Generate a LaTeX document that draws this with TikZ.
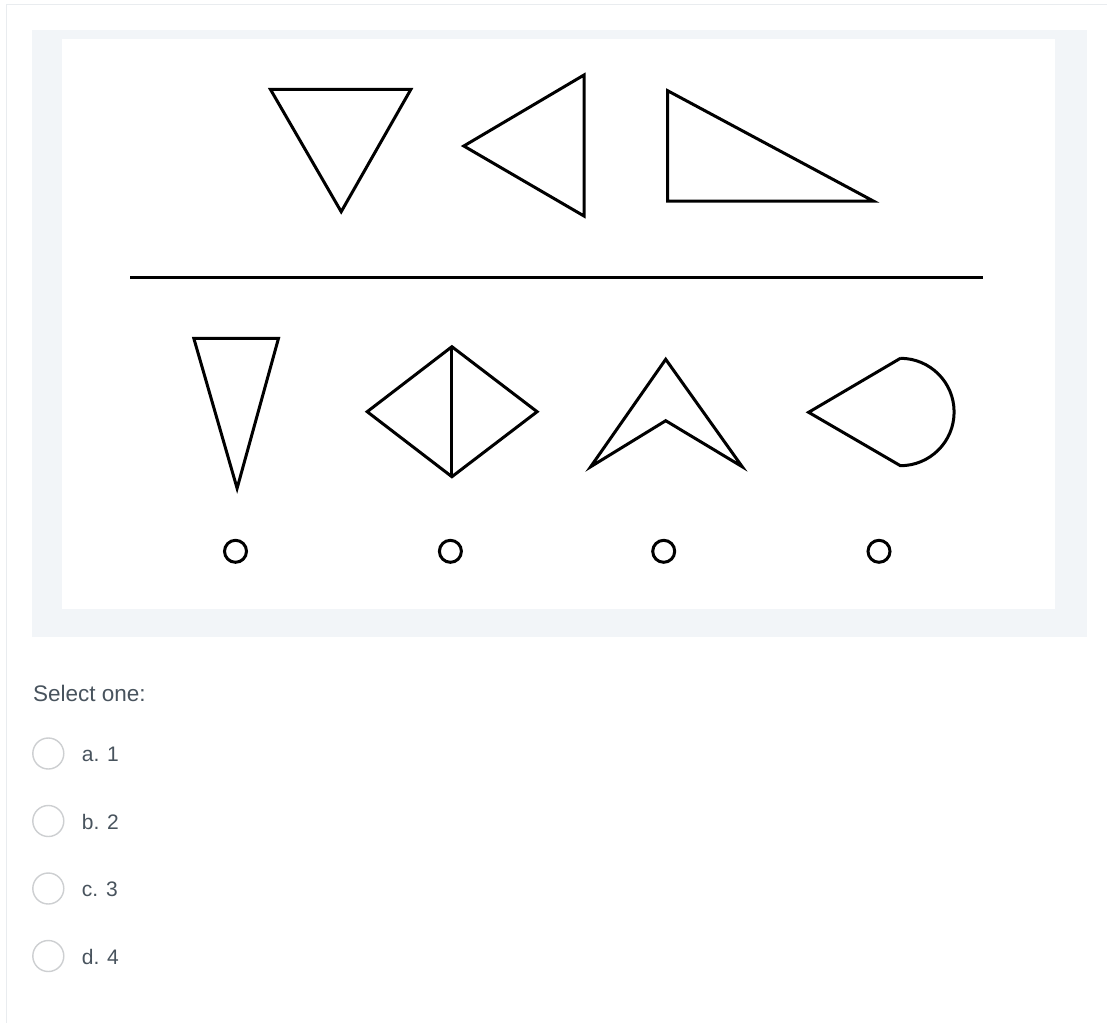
\documentclass[tikz,border=0pt]{standalone}
\usepackage{fontspec}
\setmainfont{Liberation Sans}
\usepackage{xcolor}
\usepackage{tikz}
\usetikzlibrary{positioning}
\definecolor{PanelGray}{HTML}{F2F5F8}
\definecolor{CardLine}{HTML}{E9ECEF}
\definecolor{RadioGray}{HTML}{CDCFD1}
\definecolor{TextSlate}{HTML}{48535D}

\begin{document}
\begin{tikzpicture}[x=1pt, y=-1pt,
  figline/.style={draw=black, line width=3pt, line join=miter},
  dot/.style={draw=black, line width=3pt},
  radio/.style={circle, draw=RadioGray, line width=1.4pt, fill=white,
    minimum size=31pt, inner sep=0pt},
  prompt/.style={anchor=base west, inner sep=0pt, text=TextSlate,
    font=\fontsize{22.5}{27}\selectfont},
  choice/.style={anchor=base west, inner sep=0pt, text=TextSlate,
    font=\fontsize{21}{25}\selectfont}
]
\useasboundingbox (0,0) rectangle (1107,1023);
\fill[white] (0,0) rectangle (1107,1023);
\draw[CardLine, line width=1.5pt] (6.5,1023) |- (1107,4.5);

% picture frame
\fill[PanelGray] (32,30) rectangle (1087,637);
\fill[white] (62,39) rectangle (1055,609);

% upper row
\draw[figline] (270.4,89.3) -- (410.9,89.3) -- (341.2,211.7) -- cycle;
\draw[figline] (584.0,75) -- (463.8,146) -- (584.0,216) -- cycle;
\draw[figline] (667.6,90.7) -- (667.6,201) -- (873.3,201) -- cycle;

% divider
\draw[black, line width=3pt] (130,277.7) -- (983.3,277.7);

% lower row
\draw[figline] (193.8,338.3) -- (278.5,338.3) -- (237.1,488.3) -- cycle;
\draw[figline] (451.9,346.7) -- (537.1,411.7) -- (451.9,476.7)
  -- (367.2,411.7) -- cycle;
\draw[figline] (451.9,346.7) -- (451.9,476.7);
\draw[figline] (665.7,359.3) -- (742.2,466.7) -- (665.7,420.7)
  -- (590.7,466.7) -- cycle;
\draw[figline] (900.4,358.3) -- (808.6,412.3) -- (900.4,465.7)
  arc[start angle=-90, end angle=90, radius=53.7pt];

% answer marks
\foreach \cx in {235.5, 450.4, 663.7, 879}
  \draw[dot] (\cx,551.3) circle[radius=11pt];

% question
\node[prompt] (select) at (33,701.7) {Select one:};

\foreach \lbl/\yy [count=\i] in {a. 1/753.5, b. 2/821, c. 3/888.5, d. 4/956}{
  \node[radio] (radio\i) at (48.3,\yy) {};
  \node[choice] (opt\i) at (81.7,\yy+8.2) {\lbl};
}
\end{tikzpicture}
\end{document}
